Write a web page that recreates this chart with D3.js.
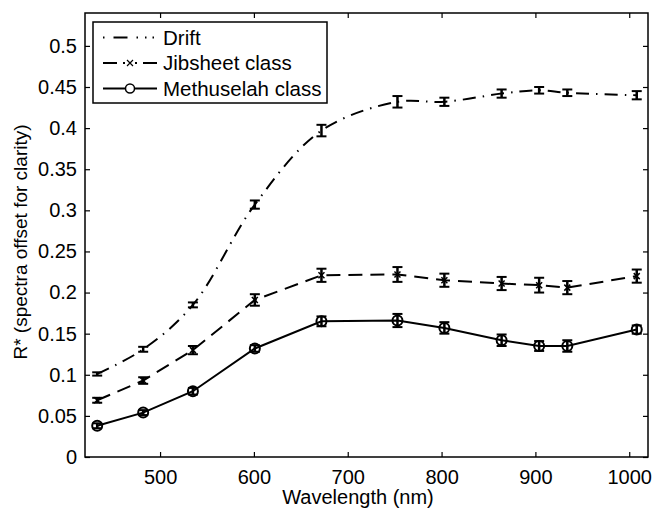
<!DOCTYPE html>
<html>
<head>
<meta charset="utf-8">
<script src="https://cdn.jsdelivr.net/npm/d3@7"></script>
<style>
  body { margin: 0; background: #fff; }
  svg { display: block; }
  text { font-family: "Liberation Sans", Arial, Helvetica, sans-serif; fill: #000; -webkit-font-smoothing: antialiased; }
</style>
</head>
<body>
<svg id="chart" width="654" height="508"></svg>
<script>
// Wavelengths (nm) where the reflectance was sampled
const wavelengths = [433, 482, 535, 601, 672, 753, 803, 864, 904, 934, 1008];

// Mean R* per sample (spectra offset for clarity)
const driftValues      = [0.101, 0.131, 0.185, 0.307, 0.397, 0.432, 0.432, 0.442, 0.446, 0.443, 0.440];
const jibsheetValues   = [0.069, 0.093, 0.130, 0.191, 0.221, 0.222, 0.215, 0.211, 0.209, 0.206, 0.220];
const methuselahValues = [0.038, 0.054, 0.080, 0.132, 0.165, 0.166, 0.157, 0.142, 0.135, 0.135, 0.155];

// Half-widths of the error bars
const driftErrors      = [0.002, 0.003, 0.003, 0.005, 0.007, 0.007, 0.005, 0.005, 0.004, 0.004, 0.005];
const jibsheetErrors   = [0.003, 0.004, 0.005, 0.007, 0.008, 0.009, 0.008, 0.008, 0.009, 0.008, 0.008];
const methuselahErrors = [0.003, 0.003, 0.004, 0.004, 0.006, 0.008, 0.007, 0.007, 0.006, 0.007, 0.005];

const xTicks = [500, 600, 700, 800, 900, 1000];
const yTicks = [0, 0.05, 0.1, 0.15, 0.2, 0.25, 0.3, 0.35, 0.4, 0.45, 0.5];

const seriesNames = ["Drift", "Jibsheet class", "Methuselah class"];

const margin = { left: 85, right: 6, top: 13, bottom: 51 };
const width = 654, height = 508;
const fontSize = 20;

const svg = d3.select("#chart");

const x = d3.scaleLinear().domain([420, 1020]).range([margin.left, width - margin.right]);
const y = d3.scaleLinear().domain([0, 0.54]).range([height - margin.bottom, margin.top]);

const series = [
  { name: seriesNames[0], values: driftValues, errors: driftErrors,
    dash: "13,7,1.5,7", marker: "none", curve: d3.curveCatmullRom.alpha(0.5) },
  { name: seriesNames[1], values: jibsheetValues, errors: jibsheetErrors,
    dash: "14,8", marker: "x", curve: d3.curveLinear },
  { name: seriesNames[2], values: methuselahValues, errors: methuselahErrors,
    dash: null, marker: "o", curve: d3.curveLinear }
];

const plot = svg.append("g");

series.forEach(s => {
  const pts = wavelengths.map((w, i) => ({ w, v: s.values[i], e: s.errors[i] }));

  const line = d3.line().x(d => x(d.w)).y(d => y(d.v)).curve(s.curve);
  plot.append("path")
    .datum(pts)
    .attr("d", line)
    .attr("fill", "none")
    .attr("stroke", "#000")
    .attr("stroke-width", 2)
    .attr("stroke-dasharray", s.dash);

  // Error bars with caps
  const eb = plot.append("g").attr("stroke", "#000").attr("stroke-width", 2);
  pts.forEach(d => {
    const cx = x(d.w), y0 = y(d.v - d.e), y1 = y(d.v + d.e);
    eb.append("line").attr("x1", cx).attr("x2", cx).attr("y1", y0).attr("y2", y1).attr("stroke-width", 2.5);
    eb.append("line").attr("x1", cx - 5).attr("x2", cx + 5).attr("y1", y0).attr("y2", y0);
    eb.append("line").attr("x1", cx - 5).attr("x2", cx + 5).attr("y1", y1).attr("y2", y1);
  });

  // Markers
  if (s.marker === "o") {
    plot.append("g").selectAll("circle").data(pts).join("circle")
      .attr("cx", d => x(d.w)).attr("cy", d => y(d.v)).attr("r", 5)
      .attr("fill", "none").attr("stroke", "#000").attr("stroke-width", 2);
  } else if (s.marker === "x") {
    plot.append("g").selectAll("path").data(pts).join("path")
      .attr("d", d => {
        const cx = x(d.w), cy = y(d.v), r = 3;
        return `M${cx - r},${cy - r}L${cx + r},${cy + r}M${cx - r},${cy + r}L${cx + r},${cy - r}`;
      })
      .attr("stroke", "#000").attr("stroke-width", 1.5);
  }
});

// Axes box with inward ticks on all four sides
const x0 = margin.left, x1 = width - margin.right;
const yTop = margin.top, yBot = height - margin.bottom;
const tickLen = 5;

const axisG = svg.append("g");
axisG.append("rect")
  .attr("x", x0).attr("y", yTop).attr("width", x1 - x0).attr("height", yBot - yTop)
  .attr("fill", "none").attr("stroke", "#000").attr("stroke-width", 1.5);

const xAxisBottom = d3.axisBottom(x).tickValues(xTicks).tickSize(-tickLen).tickPadding(13).tickFormat(d3.format("d"));
const xAxisTop = d3.axisTop(x).tickValues(xTicks).tickSize(-tickLen).tickFormat("");
const yAxisLeft = d3.axisLeft(y).tickValues(yTicks).tickSize(-tickLen).tickPadding(8).tickFormat(d => d === 0 ? "0" : d3.format("")(+d.toFixed(2)));
const yAxisRight = d3.axisRight(y).tickValues(yTicks).tickSize(-tickLen).tickFormat("");

function styleAxis(g) {
  g.select(".domain").remove();
  g.selectAll(".tick line").attr("stroke", "#000").attr("stroke-width", 1.2);
  g.selectAll(".tick text").attr("font-size", fontSize).attr("fill", "#000")
    .attr("font-family", '"Liberation Sans", Arial, sans-serif');
}

axisG.append("g").attr("transform", `translate(0,${yBot})`).call(xAxisBottom).call(styleAxis);
axisG.append("g").attr("transform", `translate(0,${yTop})`).call(xAxisTop).call(styleAxis);
axisG.append("g").attr("transform", `translate(${x0},0)`).call(yAxisLeft).call(styleAxis);
axisG.append("g").attr("transform", `translate(${x1},0)`).call(yAxisRight).call(styleAxis);

// Axis titles
svg.append("text")
  .attr("x", 358).attr("y", 504)
  .attr("text-anchor", "middle").attr("font-size", fontSize)
  .attr("fill", "#000")
  .text("Wavelength (nm)");

svg.append("text")
  .attr("transform", `translate(27,242) rotate(-90)`)
  .attr("text-anchor", "middle").attr("font-size", 19)
  .attr("fill", "#000")
  .text("R* (spectra offset for clarity)");

// Legend
const legend = svg.append("g");
legend.append("rect")
  .attr("x", 93).attr("y", 22).attr("width", 234).attr("height", 81)
  .attr("fill", "#fff").attr("stroke", "#000").attr("stroke-width", 1.5);

series.forEach((s, i) => {
  const cy = 37.5 + i * 25.5;
  legend.append("line")
    .attr("x1", 103).attr("x2", 157).attr("y1", cy).attr("y2", cy)
    .attr("stroke", "#000").attr("stroke-width", 2)
    .attr("stroke-dasharray", s.name === seriesNames[0] ? "1.5,9,14,9,1.5,7,1.5,6" : (s.dash ? "14,6" : null));
  const mx = 130;
  if (s.marker === "o") {
    legend.append("circle").attr("cx", mx).attr("cy", cy).attr("r", 4.5)
      .attr("fill", "#fff").attr("stroke", "#000").attr("stroke-width", 1.5);
  } else if (s.marker === "x") {
    legend.append("rect").attr("x", mx - 5).attr("y", cy - 5).attr("width", 10).attr("height", 10).attr("fill", "#fff");
    legend.append("path")
      .attr("d", `M${mx - 3},${cy - 3}L${mx + 3},${cy + 3}M${mx - 3},${cy + 3}L${mx + 3},${cy - 3}`)
      .attr("stroke", "#000").attr("stroke-width", 1.2);
  }
  legend.append("text")
    .attr("x", 163).attr("y", cy).attr("dy", "0.36em")
    .attr("font-size", 20.5)
    .attr("fill", "#000")
    .text(s.name);
});
</script>
</body>
</html>
